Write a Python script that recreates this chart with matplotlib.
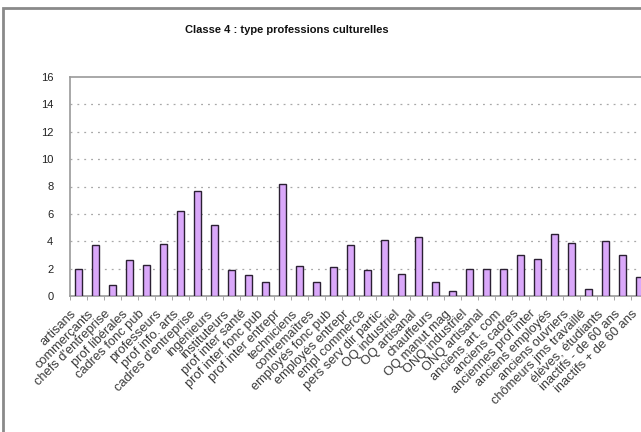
import matplotlib
matplotlib.use("Agg")
import matplotlib.pyplot as plt
from matplotlib.patches import Rectangle
import matplotlib.transforms as mtransforms
import numpy as np

plt.rcParams['font.family'] = ['Liberation Sans', 'DejaVu Sans']

categories = [
    "artisans", "commerçants", "chefs d'entreprise", "prof libérales",
    "cadres fonc pub", "professeurs", "prof info. arts", "cadres d'entreprise",
    "ingénieurs", "instituteurs", "prof inter santé", "prof inter fonc pub",
    "prof inter entrepr", "techniciens", "contremaîtres", "employés fonc pub",
    "employés entrepr", "empl commerce", "pers serv dir partic", "OQ industriel",
    "OQ artisanal", "chauffeurs", "OQ manut mag", "ONQ industriel",
    "ONQ artisanal", "anciens art. com", "anciens cadres", "anciennes prof inter",
    "anciens employés", "anciens ouvriers", "chômeurs jms travaillé",
    "élèves, étudiants", "inactifs - de 60 ans", "inactifs + de 60 ans",
]
values = [
    2.0, 3.7, 0.8, 2.6, 2.3, 3.8, 6.2, 7.7, 5.2, 1.9, 1.5, 1.0, 8.2, 2.2,
    1.0, 2.1, 3.7, 1.9, 4.1, 1.6, 4.3, 1.0, 0.4, 2.0, 2.0, 2.0, 3.0, 2.7,
    4.5, 3.9, 0.5, 4.0, 3.0, 1.4,
]
yticks = [0, 2, 4, 6, 8, 10, 12, 14, 16]
title = "Classe 4 : type professions culturelles"

W, H = 641, 432
fig = plt.figure(figsize=(W / 100, H / 100), dpi=100)

# outer chart frame
fig.patches.append(Rectangle((3 / W, -0.1), 1.2, (H - 8) / H + 0.1,
                             transform=fig.transFigure, fill=False,
                             edgecolor='#8a8a8a', linewidth=2))

left = 70 / W
bottom = (H - 296) / H
top = (H - 77) / H
ncat = len(categories)
width = 17 * ncat / W
ax = fig.add_axes([left, bottom, width, top - bottom])

x = np.arange(ncat)
ax.bar(x, values, width=0.38, color='#DAA8FA', edgecolor='#2b2033',
       linewidth=1.0, zorder=3)

ax.set_xlim(-0.5, ncat - 0.5)
ax.set_ylim(0, 16)
ax.set_yticks(yticks)
ax.set_yticklabels([str(t) for t in yticks], fontsize=8, color='#222222')
for t in yticks[1:-1]:
    ax.axhline(t, color='#a8a8a8', linestyle=(0, (1.5, 4)), linewidth=0.9, zorder=1)

ax.set_xticks(x)
ax.set_xticklabels(categories, rotation=45, ha='right', rotation_mode='anchor',
                   fontsize=9.3, color='#3a3a3a')
ax.tick_params(axis='x', length=0, pad=5)
offset = mtransforms.ScaledTranslation(-8 / 100, -5 / 100, fig.dpi_scale_trans)
for lab in ax.get_xticklabels():
    lab.set_transform(lab.get_transform() + offset)
ax.set_xticks(np.arange(-0.5, ncat, 1), minor=True)
ax.tick_params(axis='x', which='minor', length=3, color='#999999')
ax.tick_params(axis='y', length=0, pad=12)

for s in ['left', 'top', 'bottom']:
    ax.spines[s].set_color('#9a9a9a')
    ax.spines[s].set_linewidth(1.2)
ax.spines['right'].set_visible(False)

fig.text(287 / W, (H - 30) / H, title, ha='center', va='center',
         fontsize=8, fontweight='bold', color='#111111')

fig.savefig('out.png', dpi=100)
